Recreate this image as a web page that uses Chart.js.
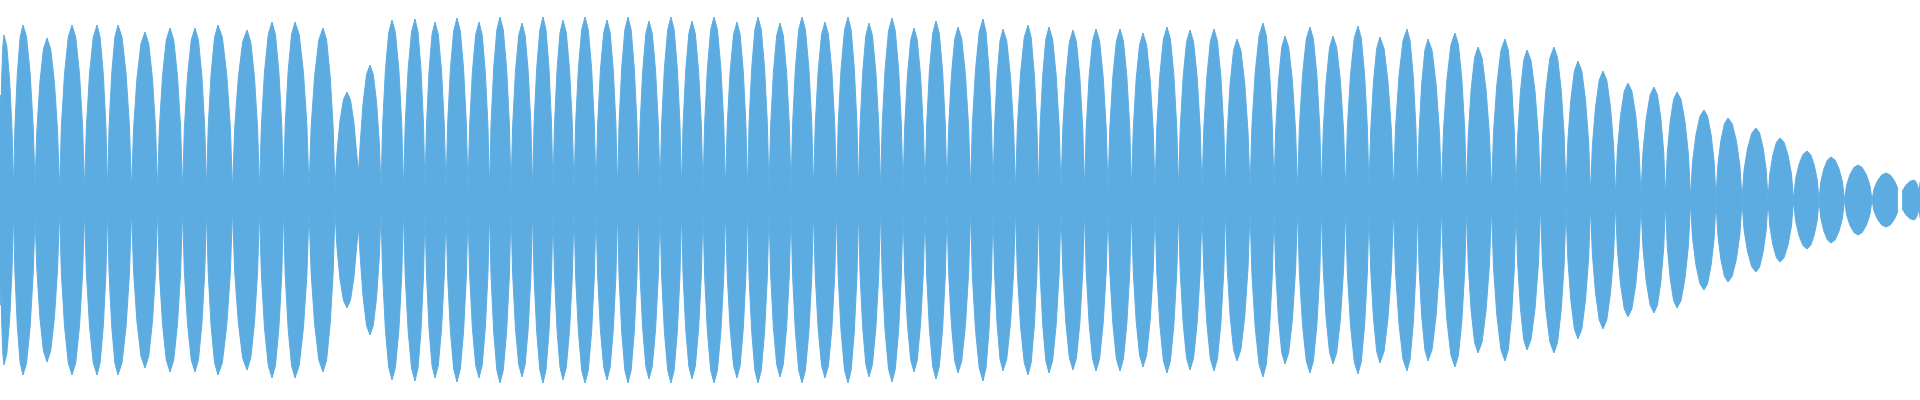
<!DOCTYPE html>
<html>
<head>
<meta charset="utf-8">
<script src="https://cdn.jsdelivr.net/npm/chart.js@4/dist/chart.umd.min.js"></script>
<style>
  html, body { margin: 0; padding: 0; background: #fff; }
</style>
</head>
<body>
<canvas id="wave" width="1920" height="400"></canvas>
<script>
// lobe centres (sample position) and lobe peak amplitude
var lobeX = [4,23,47,72,97,118,145,170,195,218,247,272,295,323,347,370,392,415,435,457,479,
  500,522,543,563,585,607,628,649,671,692,714,737,758,780,802,825,848,869,892,914,936,958,
  983,1003,1028,1049,1073,1096,1120,1143,1167,1190,1214,1237,1263,1285,1310,1333,1358,1380,1407,1428,
  1455,1478,1505,1527,1554,1578,1603,1628,1654,1677,1704,1728,1756,1780,1807,1831,1858,1886,1914];
var lobeAmp = [165,175,162,175,175,175,168,172,172,175,170,178,178,172,108,135,180,181,178,182,178,
  183,177,183,180,183,180,183,179,183,179,183,178,183,177,183,178,183,177,182,172,179,173,
  181,171,175,173,170,171,171,167,173,170,171,161,177,164,173,164,174,163,171,161,
  167,153,161,150,153,139,129,117,113,108,90,82,72,62,49,43,35,27,20];
// amplitude in the gap after each lobe
var gapAmp = [10,16,10,10,10,10,10,10,10,10,10,10,10,10,28,10,10,10,10,10,
  10,10,10,10,10,10,10,10,10,10,10,10,10,10,10,10,10,10,10,10,10,10,
  10,10,10,10,10,10,10,10,10,10,10,10,10,10,10,10,10,10,10,10,
  9,9,8,8,7,7,6,5,5,4,3,2,2,1,1,0,0,0];
var startAmp = 105;
var endAmp = 18;

// each lobe is drawn as a rounded lens: offsets (fraction of half-gap) and heights (fraction of peak)
var lensPos = [0.85, 0.6, 0.3];
var lensH = [0.42, 0.72, 0.93];

var upper = [{ x: 0, y: startAmp }];
for (var i = 0; i < lobeX.length; i++) {
  var left = i > 0 ? (lobeX[i] - lobeX[i - 1]) / 2 : lobeX[i];
  var right = i < lobeX.length - 1 ? (lobeX[i + 1] - lobeX[i]) / 2 : 1920 - lobeX[i];
  var k;
  for (k = 0; k < lensPos.length; k++) {
    var xl = lobeX[i] - left * lensPos[k];
    if (xl > 0) upper.push({ x: xl, y: lobeAmp[i] * lensH[k] });
  }
  upper.push({ x: lobeX[i], y: lobeAmp[i] });
  for (k = lensPos.length - 1; k >= 0; k--) {
    var xr = lobeX[i] + right * lensPos[k];
    if (xr < 1920) upper.push({ x: xr, y: lobeAmp[i] * lensH[k] });
  }
  if (i < lobeX.length - 1) {
    upper.push({ x: (lobeX[i] + lobeX[i + 1]) / 2, y: gapAmp[i] });
  }
}
upper.push({ x: 1920, y: endAmp });
var lower = upper.map(function(p) { return { x: p.x, y: -p.y }; });

var blue = '#5DACE1';
new Chart(document.getElementById('wave'), {
  type: 'line',
  data: {
    datasets: [
      { data: upper, borderColor: blue, borderWidth: 1, backgroundColor: blue, fill: '+1', pointRadius: 0, tension: 0 },
      { data: lower, borderColor: blue, borderWidth: 1, backgroundColor: blue, fill: false, pointRadius: 0, tension: 0 }
    ]
  },
  options: {
    responsive: false,
    animation: false,
    layout: { padding: 0 },
    plugins: { legend: { display: false }, tooltip: { enabled: false } },
    scales: {
      x: { type: 'linear', min: 0, max: 1920, display: false },
      y: { min: -200, max: 200, display: false }
    }
  }
});
</script>
</body>
</html>
